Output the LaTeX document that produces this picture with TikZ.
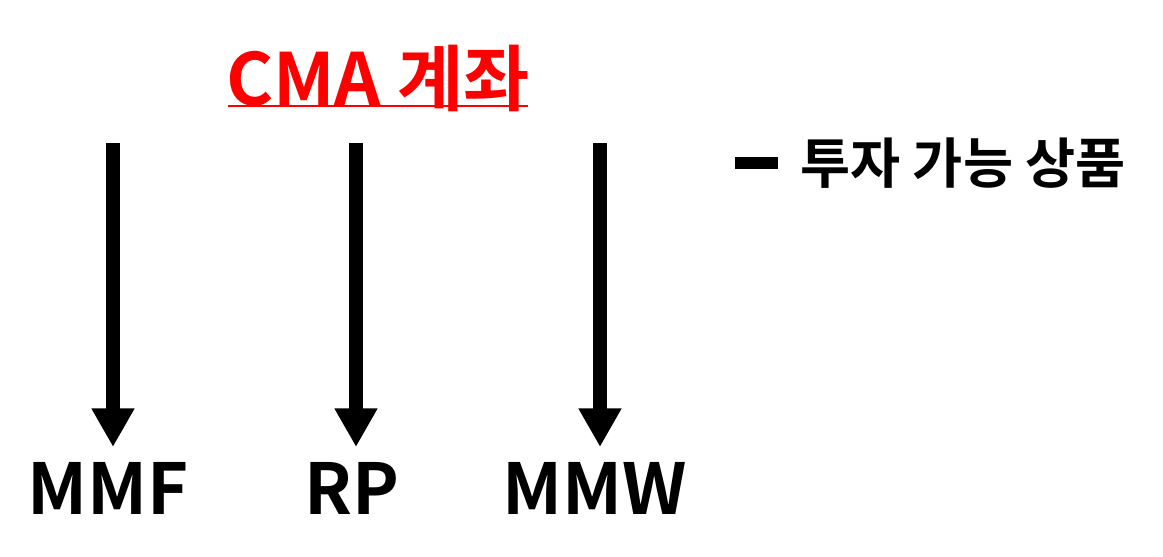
\documentclass[tikz,border=0pt]{standalone}
\usepackage{fontspec}
\setmainfont{Noto Sans CJK KR}[BoldFont={Noto Sans CJK KR Bold}]
\usetikzlibrary{arrows.meta}
\tikzset{
  lbl/.style={font=\fontsize{40}{40}\selectfont\bfseries, inner sep=0pt},
  flow/.style={line width=7.9pt, -{Triangle[width=23pt,length=22pt]}}
}
\begin{document}
\begin{tikzpicture}[x=0.02cm,y=-0.02cm]
\useasboundingbox (0,0) rectangle (1163,557);
\node (title) at (378,78) [font=\fontsize{41}{41}\selectfont\bfseries, text=red, inner sep=0pt] {CMA 계좌};
\draw[red, line width=1.6pt] (228,106) -- (528,106);

\coordinate (t1) at (113,143);
\coordinate (t2) at (356,143);
\coordinate (t3) at (600,143);
\node (mmf) at (108,488) [lbl] {MMF};
\node (rp)  at (352,488) [lbl] {RP};
\node (mmw) at (595,488) [lbl] {MMW};
\coordinate (b1) at (113,447);
\coordinate (b2) at (356,447);
\coordinate (b3) at (600,447);
\draw[flow] (t1) -- (b1);
\draw[flow] (t2) -- (b2);
\draw[flow] (t3) -- (b3);

\coordinate (k1) at (735,163);
\coordinate (k2) at (778,163);
\draw[line width=7pt] (k1) -- (k2);
\node (key) at (963,163) [font=\fontsize{31}{31}\selectfont\bfseries, inner sep=0pt] {투자 가능 상품};
\end{tikzpicture}
\end{document}
